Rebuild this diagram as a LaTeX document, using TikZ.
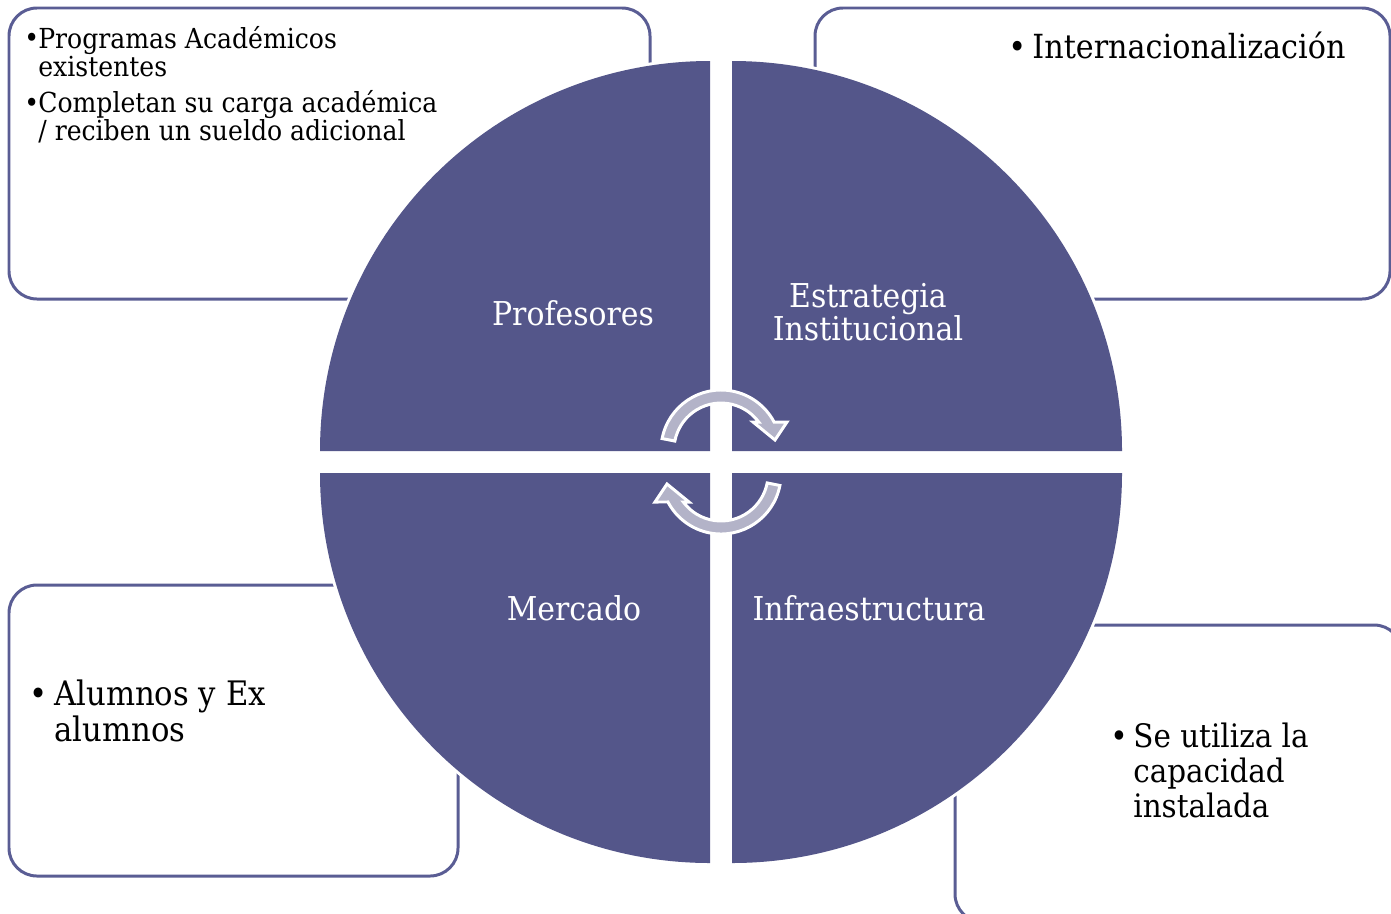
\documentclass[tikz,border=0pt]{standalone}
\usepackage{fontspec}
\setmainfont{DejaVu Serif}[FakeStretch=0.91]
\definecolor{quad}{HTML}{54568A}
\definecolor{boxline}{HTML}{5A5D94}
\definecolor{arrowfill}{HTML}{B3B3C8}
\tikzset{
  infobox/.style={draw=boxline, line width=1.7pt, rounded corners=15.9pt, fill=white},
  quadhalo/.style={draw=white, line width=3.4pt, fill=white},
  quadfill/.style={fill=quad},
  qlabel/.style={text=white, inner sep=0pt, align=center, anchor=base, font=\fontsize{18.7}{18.7}\selectfont},
  smalltxt/.style={inner sep=0pt, align=left, anchor=base west, font=\fontsize{15.7}{15.9}\selectfont},
  bigtxt/.style={inner sep=0pt, align=left, anchor=base west, font=\fontsize{19.2}{20.4}\selectfont},
  setxt/.style={inner sep=0pt, align=left, anchor=base west, font=\fontsize{18.4}{19.8}\selectfont},
  inttxt/.style={inner sep=0pt, align=left, anchor=base west, font=\fontsize{18.9}{20}\selectfont},
  cyclearrow/.style={fill=arrowfill, draw=white, line width=1.7pt, line join=miter},
}
\begin{document}
\begin{tikzpicture}[x=0.02cm, y=-0.02cm]
\useasboundingbox (0,0) rectangle (1391,913);
\clip (0,0) rectangle (1391,913);
% boxes
\draw[infobox] (9,8) rectangle (650,299);
\draw[infobox] (815,8) rectangle (1390,299);
\draw[infobox] (9,585) rectangle (458,876);
\draw[infobox] (955,625) rectangle (1402,922);
% quadrants: white halo first, then fill
\foreach \s in {quadhalo, quadfill}{
  \path[\s] (710,451) -- (320,451) arc[start angle=180, end angle=270, radius=390] -- cycle;
  \path[\s] (732,451) -- (732,61) arc[start angle=270, end angle=360, radius=390] -- cycle;
  \path[\s] (732,473) -- (1122,473) arc[start angle=0, end angle=90, radius=390] -- cycle;
  \path[\s] (710,473) -- (710,863) arc[start angle=90, end angle=180, radius=390] -- cycle;
}
% cycle arrows
\path[cyclearrow] (721,450) ++(-169:60) arc[start angle=-169, end angle=-27.8, radius=60]
   -- (787,422) -- (775,440) -- (753,422) -- (758.7,422)
   arc[start angle=-36.6, end angle=-169, radius=47] -- cycle;
\begin{scope}[rotate around={180:(721,462)}]
\path[cyclearrow] (721,450) ++(-169:60) arc[start angle=-169, end angle=-27.8, radius=60]
   -- (787,422) -- (775,440) -- (753,422) -- (758.7,422)
   arc[start angle=-36.6, end angle=-169, radius=47] -- cycle;
\end{scope}
% quadrant labels
\node[qlabel] (prof) at (573,325) {Profesores};
\node[qlabel] (estr) at (868,340) {Estrategia\\Institucional};
\node[qlabel] (merc) at (574,620) {Mercado};
\node[qlabel] (infra) at (869,620) {Infraestructura};
% box texts
\node[smalltxt] (b1) at (24,47) {\textbullet};
\node[smalltxt] (t1) at (38,76) {Programas Académicos\\existentes};
\node[smalltxt] (b2) at (24,112) {\textbullet};
\node[smalltxt] (t2) at (38,140) {Completan su carga académica\\/ reciben un sueldo adicional};
\node[inttxt] (b3) at (1008,58) {\textbullet};
\node[inttxt] (t3) at (1032,58) {Internacionalización};
\node[bigtxt] (b4) at (29,705) {\textbullet};
\node[bigtxt] (t4) at (54,741) {Alumnos y Ex\\alumnos};
\node[setxt] (b5) at (1110,747) {\textbullet};
\node[setxt] (t5) at (1133,817) {Se utiliza la\\capacidad\\instalada};
\end{tikzpicture}
\end{document}
